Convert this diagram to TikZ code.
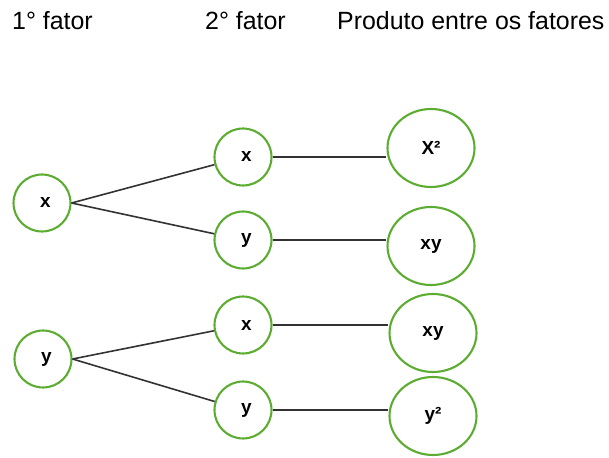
\documentclass[tikz,border=0pt]{standalone}
\usepackage{fontspec}
\setmainfont{Liberation Sans}
\usetikzlibrary{shapes.geometric}
\definecolor{leafgreen}{RGB}{92,172,50}
\definecolor{edgegray}{RGB}{50,50,50}
\tikzset{
  header/.style={anchor=west, inner sep=0pt, font=\fontsize{25}{28}\selectfont},
  factor/.style={circle, draw=leafgreen, line width=2.1pt, minimum size=57bp, inner sep=0pt,
                 font=\bfseries\fontsize{19}{21}\selectfont,
                 execute at begin node=\hspace*{7bp}},
  product/.style={ellipse, draw=leafgreen, line width=2.1pt, minimum width=87bp, minimum height=78bp,
                  inner sep=0pt, font=\bfseries\fontsize{19}{21}\selectfont},
  branch/.style={draw=edgegray, line width=1.6pt}
}
\begin{document}
\begin{tikzpicture}[x=1bp, y=-1bp]
  \useasboundingbox (0,0) rectangle (609,458);

  % column titles
  \node[header] (h1) at (12,21) {1° fator};
  \node[header] (h2) at (205,21) {2° fator};
  \node[header] (h3) at (337,21) {Produto entre os fatores};

  % first factor
  \node[factor] (fx) at (42,203) {x};
  \node[factor] (fy) at (43,359) {y};

  % second factor
  \node[factor] (sxx) at (243,157) {x};
  \node[factor] (sxy) at (243,240) {y};
  \node[factor] (syx) at (243,325) {x};
  \node[factor] (syy) at (243,410) {y};

  % products
  \node[product] (pxx) at (431,148) {X²};
  \node[product] (pxy) at (431,246) {xy};
  \node[product] (pyx) at (433,333) {xy};
  \node[product] (pyy) at (433,416) {y²};

  % branches from the first factor
  \draw[branch] (fx.east) -- (sxx);
  \draw[branch] (fx.east) -- (sxy);
  \draw[branch] (fy.east) -- (syx);
  \draw[branch] (fy.east) -- (syy);

  % links to the products
  \draw[branch] (sxx.east) -- (sxx.east -| pxx.west);
  \draw[branch] (sxy.east) -- (sxy.east -| pxy.west);
  \draw[branch] (syx.east) -- (syx.east -| pyx.west);
  \draw[branch] (syy.east) -- (syy.east -| pyy.west);
\end{tikzpicture}
\end{document}
